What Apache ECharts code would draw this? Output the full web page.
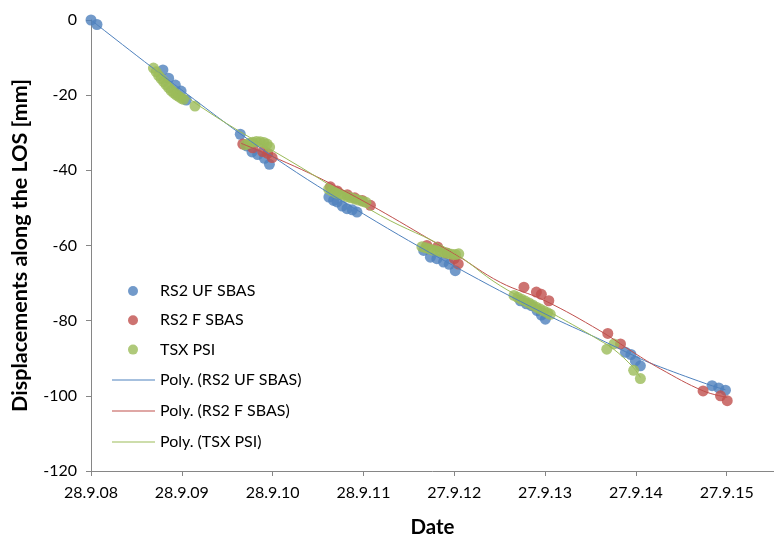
<!DOCTYPE html>
<html>
<head>
<meta charset="utf-8">
<script src="https://cdn.jsdelivr.net/npm/echarts@6/dist/echarts.min.js"></script>
<style>
html,body{margin:0;padding:0;background:#fff;}
#chart{width:774px;height:536px;}
</style>
</head>
<body>
<div id="chart"></div>
<script>
// x values: days since 28.9.2008, y values: displacement in mm
const ufX = [0, 24, 289, 312, 339, 362, 383, 600, 625, 647, 670, 697, 717, 956, 975, 989, 1010, 1029, 1050, 1069, 1337, 1364, 1390, 1417, 1440, 1464, 1726, 1750, 1770, 1793, 1810, 1826, 2148, 2170, 2188, 2208, 2496, 2523, 2550];
const ufY = [0, -1.2, -13.3, -15.5, -17.3, -18.9, -21.3, -30.4, -33.5, -35.1, -35.8, -36.8, -38.4, -47.1, -48.0, -48.4, -49.5, -50.2, -50.5, -51.1, -61.3, -63.1, -63.5, -64.4, -65.0, -66.7, -74.7, -75.5, -76.0, -77.3, -78.5, -79.6, -88.4, -89.0, -90.7, -92.0, -97.3, -97.9, -98.5];

const fX = [610, 650, 690, 710, 728, 962, 990, 1030, 1060, 1090, 1123, 1350, 1393, 1430, 1460, 1476, 1740, 1790, 1810, 1840, 2077, 2128, 2460, 2530, 2557];
const fY = [-33.0, -34.0, -35.0, -35.5, -36.6, -44.4, -45.5, -46.5, -47.3, -48.0, -49.3, -60.0, -60.4, -62.0, -63.5, -64.9, -71.1, -72.4, -73.0, -74.7, -83.4, -86.2, -98.7, -100.0, -101.3];

const psiX = [251, 262, 272, 282, 292, 302, 312, 322, 332, 342, 352, 362, 372, 418, 620, 635, 650, 665, 680, 695, 708, 718, 955, 970, 985, 1000, 1015, 1030, 1045, 1060, 1075, 1090, 1105, 1330, 1345, 1360, 1375, 1390, 1405, 1420, 1435, 1450, 1465, 1478, 1700, 1715, 1730, 1745, 1760, 1775, 1790, 1805, 1820, 1835, 1846, 2073, 2102, 2181, 2208];
const psiY = [-12.8, -13.8, -14.8, -15.6, -16.4, -17.2, -18.0, -18.8, -19.4, -19.9, -20.3, -20.8, -21.1, -22.9, -33.2, -32.8, -32.5, -32.3, -32.4, -32.6, -33.0, -33.8, -45.0, -45.5, -46.0, -46.3, -46.6, -47.0, -47.3, -47.6, -47.9, -48.2, -48.5, -60.3, -60.6, -60.9, -61.2, -61.4, -61.6, -61.9, -62.1, -62.3, -62.4, -62.2, -73.3, -73.8, -74.3, -74.8, -75.3, -75.8, -76.4, -76.9, -77.4, -77.9, -78.3, -87.6, -86.2, -93.2, -95.4];

// trend lines
const ufTrendX = [0, 364, 730, 1095, 1460, 1825, 2046, 2191, 2260, 2473, 2550];
const ufTrendY = [0, -18.6, -36.3, -51.6, -65.5, -78.2, -85.0, -89.6, -91.6, -96.8, -98.4];
const fTrendX = [603, 962, 1460, 1645, 1825, 2046, 2179, 2288, 2461, 2557];
const fTrendY = [-32.8, -43.5, -62.2, -69.8, -74.7, -82.7, -88.4, -92.8, -98.7, -100.4];
const psiTrendX = [251, 439, 841, 1163, 1444, 1645, 1846, 1966, 2046, 2099, 2179, 2208];
const psiTrendY = [-12.8, -23.0, -39.1, -52.0, -61.3, -70.7, -77.8, -82.2, -85.3, -87.5, -92.4, -95.1];

const seriesNames = ['RS2 UF SBAS', 'RS2 F SBAS', 'TSX PSI', 'Poly. (RS2 UF SBAS)', 'Poly. (RS2 F SBAS)', 'Poly. (TSX PSI)'];
const yTicks = {min: -120, max: 0, step: 20};
const xAxisName = 'Date';
const yAxisName = 'Displacements along the LOS [mm]';

const START = Date.UTC(2008, 8, 28);
function fmtDate(v) {
  const d = new Date(START + Math.round(v) * 86400000);
  return d.getUTCDate() + '.' + (d.getUTCMonth() + 1) + '.' + String(d.getUTCFullYear()).slice(2);
}
function pairs(xs, ys) { return xs.map((x, i) => [x, ys[i]]); }

const FONT = 'Lato';
const cBlue = '#4F81BD', cRed = '#C0504D', cGreen = '#9BBB59';

const chart = echarts.init(document.getElementById('chart'), null, {renderer: 'canvas'});
chart.setOption({
  animation: false,
  backgroundColor: '#fff',
  textStyle: {fontFamily: FONT},
  grid: {left: 91, right: 0, top: 20, bottom: 65, containLabel: false, outerBoundsMode: 'none'},
  legend: [
    {
      orient: 'vertical',
      left: 123,
      top: 278,
      itemWidth: 10,
      itemHeight: 10,
      itemGap: 13.3,
      textStyle: {fontFamily: FONT, fontSize: 16, color: '#000', lineHeight: 16, padding: [0, 0, 0, 17]},
      data: seriesNames.slice(0, 3).map(n => ({name: n, icon: 'circle'}))
    },
    {
      orient: 'vertical',
      left: 107,
      top: 367,
      itemWidth: 43,
      itemHeight: 1.2,
      itemGap: 15,
      textStyle: {fontFamily: FONT, fontSize: 16, color: '#000', lineHeight: 16},
      data: seriesNames.slice(3).map(n => ({name: n, icon: 'rect'}))
    }
  ],
  xAxis: {
    type: 'value',
    min: 0,
    max: 2745,
    interval: 365,
    name: xAxisName,
    nameLocation: 'middle',
    nameGap: 46,
    nameTextStyle: {fontFamily: FONT, fontSize: 20.5, fontWeight: 'bold', color: '#000'},
    axisLine: {show: true, onZero: false, lineStyle: {color: '#868686', width: 1}},
    axisTick: {show: true, length: 5, lineStyle: {color: '#868686'}},
    axisLabel: {formatter: fmtDate, showMaxLabel: false, margin: 14, fontFamily: FONT, fontSize: 16, color: '#000'},
    splitLine: {show: false}
  },
  yAxis: {
    type: 'value',
    min: yTicks.min,
    max: yTicks.max,
    interval: yTicks.step,
    name: yAxisName,
    nameLocation: 'middle',
    nameGap: 60,
    nameTextStyle: {fontFamily: FONT, fontSize: 21.5, fontWeight: 'bold', color: '#000'},
    axisLine: {show: true, onZero: false, lineStyle: {color: '#868686', width: 1}},
    axisTick: {show: true, length: 5, lineStyle: {color: '#868686'}},
    axisLabel: {margin: 14, fontFamily: FONT, fontSize: 16, color: '#000'},
    splitLine: {show: false}
  },
  series: [
    {name: seriesNames[0], type: 'scatter', symbolSize: 11, clip: false, itemStyle: {color: cBlue}, data: pairs(ufX, ufY), z: 2},
    {name: seriesNames[1], type: 'scatter', symbolSize: 11, clip: false, itemStyle: {color: cRed}, data: pairs(fX, fY), z: 2},
    {name: seriesNames[2], type: 'scatter', symbolSize: 11, clip: false, itemStyle: {color: cGreen}, data: pairs(psiX, psiY), z: 2},
    {name: seriesNames[3], type: 'line', smooth: 0.4, symbol: 'none', lineStyle: {color: cBlue, width: 1}, itemStyle: {color: cBlue}, data: pairs(ufTrendX, ufTrendY), z: 3},
    {name: seriesNames[4], type: 'line', smooth: 0.4, symbol: 'none', lineStyle: {color: cRed, width: 1}, itemStyle: {color: cRed}, data: pairs(fTrendX, fTrendY), z: 3},
    {name: seriesNames[5], type: 'line', smooth: 0.4, symbol: 'none', lineStyle: {color: cGreen, width: 1}, itemStyle: {color: cGreen}, data: pairs(psiTrendX, psiTrendY), z: 3}
  ]
});
</script>
</body>
</html>
